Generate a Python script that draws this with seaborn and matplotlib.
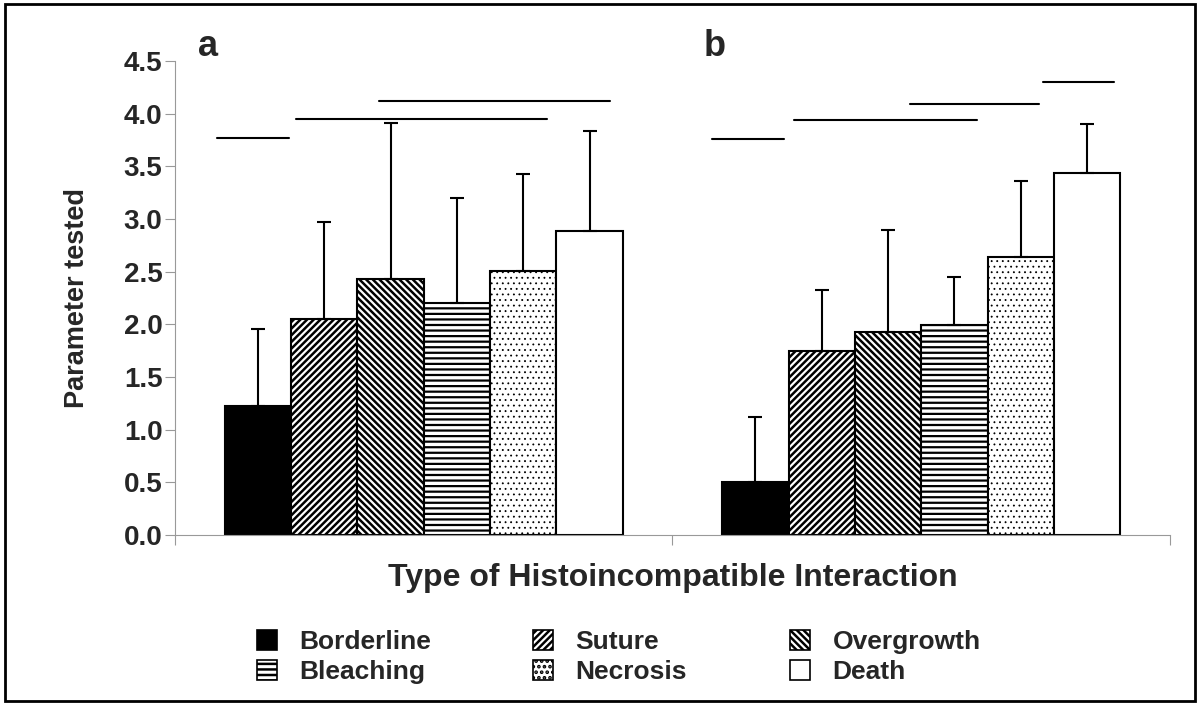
import numpy as np
import pandas as pd
import matplotlib
matplotlib.use("Agg")
import matplotlib.pyplot as plt
import matplotlib.patches as mpatches
import seaborn as sns

# data
panels = ["a", "b"]
types = ["Borderline", "Suture", "Overgrowth", "Bleaching", "Necrosis", "Death"]
means_a = [1.22, 2.05, 2.43, 2.20, 2.51, 2.89]
means_b = [0.50, 1.75, 1.925, 1.99, 2.64, 3.435]
sd_a = [0.74, 0.92, 1.48, 1.00, 0.92, 0.95]
sd_b = [0.62, 0.58, 0.97, 0.455, 0.725, 0.465]

# significance bars: (x start, x end, y) in data units
sig_lines = [(-0.416, -0.271, 3.767), (-0.257, 0.247, 3.948), (-0.090, 0.374, 4.119),
             (0.579, 0.724, 3.763), (0.744, 1.112, 3.941), (0.978, 1.237, 4.096),
             (1.244, 1.387, 4.296)]

colors = ["black", "white", "white", "white", "white", "white"]
hatches = ["", "/////", "\\\\\\\\\\", "---", "...", ""]
hatch_lw = [1.0, 1.8, 1.8, 1.6, 0.6, 1.0]

df = pd.DataFrame({
    "panel": np.repeat(panels, len(types)),
    "type": types * 2,
    "value": means_a + means_b,
    "sd": sd_a + sd_b,
})

sns.set_style("white")
plt.rcParams['font.family'] = ['Liberation Sans', 'DejaVu Sans']
plt.rcParams['font.weight'] = 'bold'
plt.rcParams['hatch.linewidth'] = 1.8
plt.rcParams['hatch.color'] = 'black'

fig = plt.figure(figsize=(12, 7.06), dpi=100)
ax = fig.add_axes([0.1458, 0.2422, 0.8292, 0.6714])

sns.barplot(data=df, x="panel", y="value", hue="type", hue_order=types,
            palette=dict(zip(types, colors)), edgecolor="black", linewidth=1.5,
            width=0.8, errorbar=None, legend=False, ax=ax)

for cont, h, hl, t in zip(ax.containers, hatches, hatch_lw, types):
    sds = df[df["type"] == t]["sd"].values
    for bar, s in zip(cont, sds):
        bar.set_hatch(h)
        if hasattr(bar, "set_hatch_linewidth"):
            bar.set_hatch_linewidth(hl)
        bar.set_edgecolor("black")
        xc = bar.get_x() + bar.get_width() / 2
        ax.errorbar(xc, bar.get_height(), yerr=[[0], [s]], fmt="none",
                    ecolor="black", elinewidth=1.5, capsize=4.7, capthick=1.5,
                    zorder=1)

for x0, x1, y in sig_lines:
    ax.plot([x0, x1], [y, y], color="black", lw=1.5, clip_on=False)

ax.set_xlim(-0.5, 1.5)
ax.set_ylim(0, 4.5)
ax.set_yticks(np.arange(0, 4.51, 0.5))
ax.set_yticklabels([f"{v:.1f}" for v in np.arange(0, 4.51, 0.5)],
                   fontsize=20, fontweight="bold")
ax.set_xticks([-0.5, 0.5, 1.5])
ax.set_xticklabels(["", "", ""])
ax.tick_params(axis="both", length=7, width=0.8, color="#999999", pad=2,
               left=True, bottom=True, direction="out")
for side in ["top", "right"]:
    ax.spines[side].set_visible(False)
for side in ["left", "bottom"]:
    ax.spines[side].set_color("#999999")
    ax.spines[side].set_linewidth(0.8)

ax.set_ylabel("Parameter tested", fontsize=19.5, fontweight="bold", labelpad=24)
ax.set_xlabel("Type of Histoincompatible Interaction", fontsize=23,
              fontweight="bold", labelpad=11)

ax.text(-0.434, 4.64, "a", fontsize=26, fontweight="bold", ha="center",
        va="center", clip_on=False)
ax.text(0.585, 4.64, "b", fontsize=26, fontweight="bold", ha="center",
        va="center", clip_on=False)

handles = {t: mpatches.Patch(facecolor=c, edgecolor="black", hatch=h, lw=1.2)
           for t, c, h in zip(types, colors, hatches)}
columns = [["Borderline", "Bleaching"], ["Suture", "Necrosis"],
           ["Overgrowth", "Death"]]
col_x = [257, 533, 790]
for names, px in zip(columns, col_x):
    fig.legend([handles[t] for t in names], names, loc="center left",
               bbox_to_anchor=(px / 1200, 0.069), frameon=False,
               prop={"size": 19, "weight": "bold"}, handlelength=0.76,
               handleheight=0.76, handletextpad=0.85, labelspacing=0.22,
               borderpad=0, borderaxespad=0)

fig.patches.append(mpatches.Rectangle((0.004, 0.007), 0.992, 0.987,
                                      transform=fig.transFigure, fill=False,
                                      edgecolor="black", lw=2))

fig.savefig("out.png", dpi=100)
